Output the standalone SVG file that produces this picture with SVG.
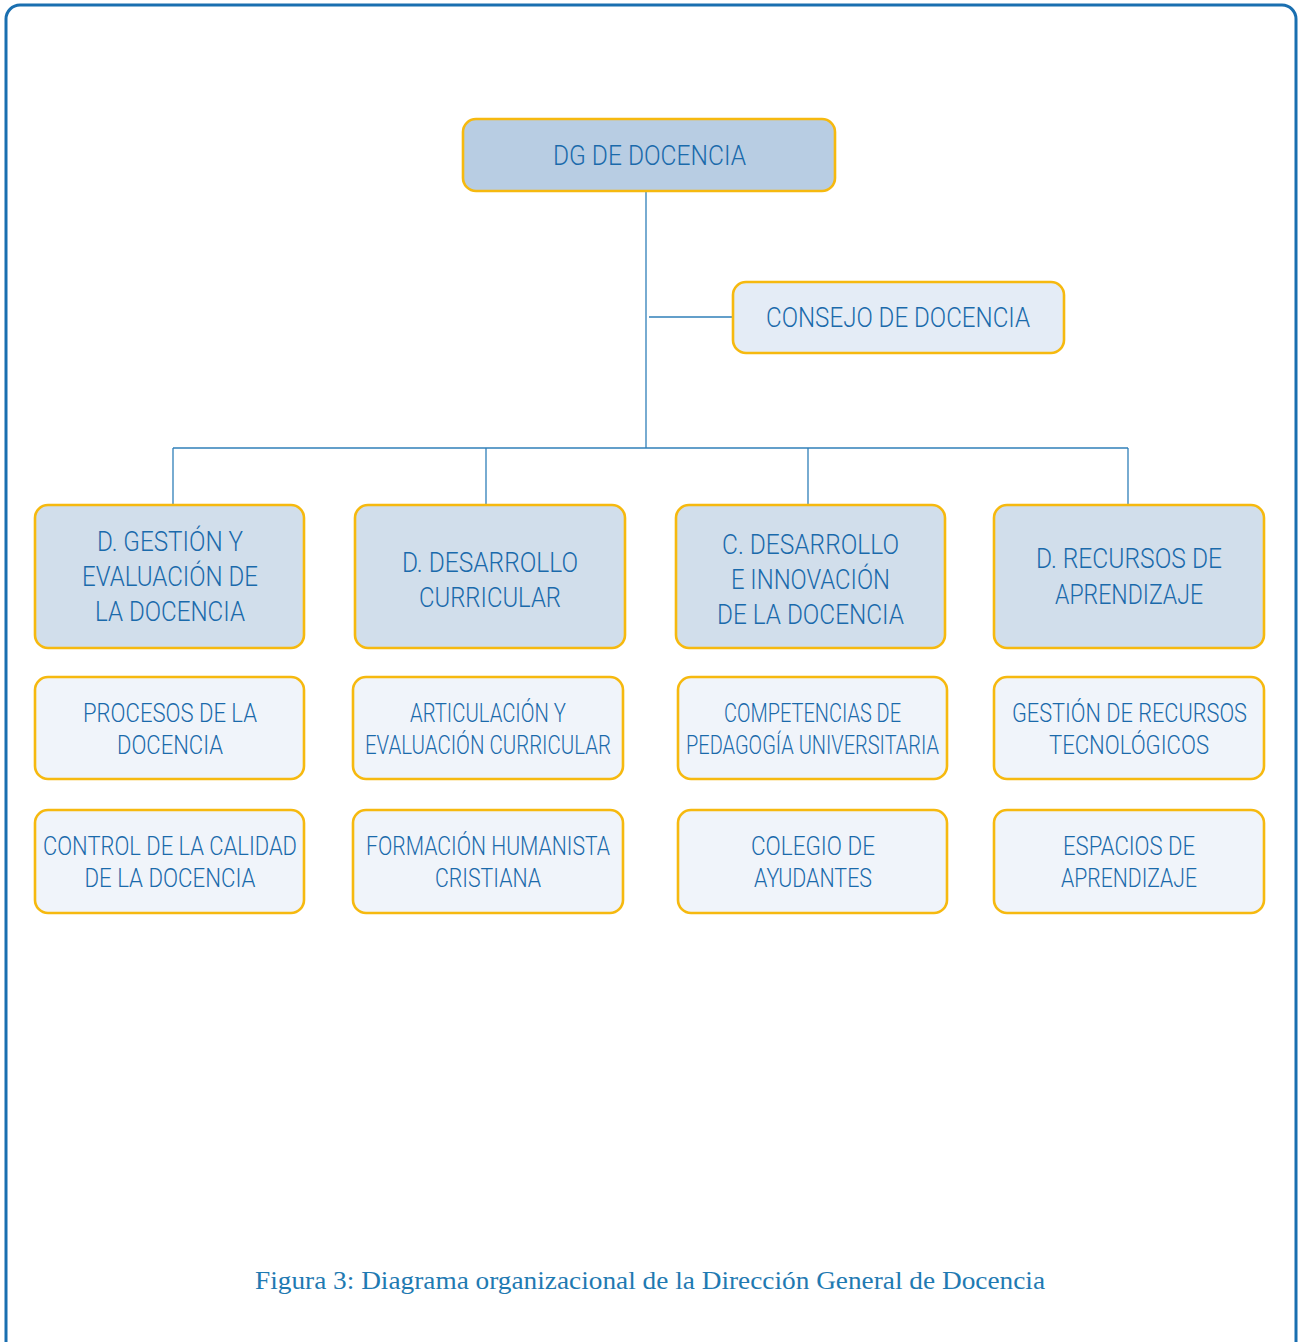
<svg xmlns="http://www.w3.org/2000/svg" width="1298" height="1342" viewBox="0 0 1298 1342">
<style>
.box{stroke:#f6b90f;stroke-width:2.6}
.top{fill:#b8cde3}
.l2{fill:#d1deeb}
.l3{fill:#f0f4fa}
.cons{fill:#e4ecf6}
.t{font-family:Roboto,"Liberation Sans",Arial,sans-serif;font-weight:300;fill:#1a6aab;text-anchor:middle}
.big{font-size:28px}
.mid{font-size:27px}
.sm{font-size:25px}
.conn{stroke:#2f7fb8;stroke-width:1.3;fill:none}
.cap{font-family:"Liberation Serif","Times New Roman",serif;font-size:26px;fill:#1f7ab2;text-anchor:middle}
</style>
<rect x="0" y="0" width="1298" height="1342" fill="#ffffff"/>
<rect x="6" y="5" width="1290" height="1370" rx="14" fill="none" stroke="#1a6fb0" stroke-width="3"/>
<g id="connectors" class="conn">
<path d="M646 191 V448"/>
<path d="M649 317 H733"/>
<path d="M173 448 H1128"/>
<path d="M173 448 V505"/>
<path d="M486 448 V505"/>
<path d="M808 448 V505"/>
<path d="M1128 448 V505"/>
</g>
<g id="dg">
<rect class="box top" x="463" y="119" width="372" height="72" rx="13"/>
<text class="t big" x="649.5" y="165" textLength="193" lengthAdjust="spacingAndGlyphs">DG DE DOCENCIA</text>
</g>
<g id="consejo">
<rect class="box cons" x="733" y="282" width="331" height="71" rx="13"/>
<text class="t big" x="898" y="327" textLength="264" lengthAdjust="spacingAndGlyphs">CONSEJO DE DOCENCIA</text>
</g>
<g id="d-gestion">
<rect class="box l2" x="35" y="505" width="269" height="143" rx="13"/>
<text class="t mid" x="170" y="551" textLength="146" lengthAdjust="spacingAndGlyphs">D. GESTIÓN Y</text>
<text class="t mid" x="170" y="586" textLength="176" lengthAdjust="spacingAndGlyphs">EVALUACIÓN DE</text>
<text class="t mid" x="170" y="621" textLength="150" lengthAdjust="spacingAndGlyphs">LA DOCENCIA</text>
</g>
<g id="d-desarrollo">
<rect class="box l2" x="355" y="505" width="270" height="143" rx="13"/>
<text class="t mid" x="490" y="572" textLength="176" lengthAdjust="spacingAndGlyphs">D. DESARROLLO</text>
<text class="t mid" x="490" y="607" textLength="142" lengthAdjust="spacingAndGlyphs">CURRICULAR</text>
</g>
<g id="c-desarrollo">
<rect class="box l2" x="676" y="505" width="269" height="143" rx="13"/>
<text class="t mid" x="810.5" y="554" textLength="177" lengthAdjust="spacingAndGlyphs">C. DESARROLLO</text>
<text class="t mid" x="810.5" y="589" textLength="159" lengthAdjust="spacingAndGlyphs">E INNOVACIÓN</text>
<text class="t mid" x="810.5" y="624" textLength="187" lengthAdjust="spacingAndGlyphs">DE LA DOCENCIA</text>
</g>
<g id="d-recursos">
<rect class="box l2" x="994" y="505" width="270" height="143" rx="13"/>
<text class="t mid" x="1129" y="568" textLength="186" lengthAdjust="spacingAndGlyphs">D. RECURSOS DE</text>
<text class="t mid" x="1129" y="604" textLength="148" lengthAdjust="spacingAndGlyphs">APRENDIZAJE</text>
</g>
<g id="procesos">
<rect class="box l3" x="35" y="677" width="269" height="102" rx="13"/>
<text class="t sm" x="170" y="722" textLength="174" lengthAdjust="spacingAndGlyphs">PROCESOS DE LA</text>
<text class="t sm" x="170" y="754" textLength="106" lengthAdjust="spacingAndGlyphs">DOCENCIA</text>
</g>
<g id="control">
<rect class="box l3" x="35" y="810" width="269" height="103" rx="13"/>
<text class="t sm" x="170" y="855" textLength="254" lengthAdjust="spacingAndGlyphs">CONTROL DE LA CALIDAD</text>
<text class="t sm" x="170" y="887" textLength="171" lengthAdjust="spacingAndGlyphs">DE LA DOCENCIA</text>
</g>
<g id="articulacion">
<rect class="box l3" x="353" y="677" width="270" height="102" rx="13"/>
<text class="t sm" x="488" y="722" textLength="156" lengthAdjust="spacingAndGlyphs">ARTICULACIÓN Y</text>
<text class="t sm" x="488" y="754" textLength="246" lengthAdjust="spacingAndGlyphs">EVALUACIÓN CURRICULAR</text>
</g>
<g id="formacion">
<rect class="box l3" x="353" y="810" width="270" height="103" rx="13"/>
<text class="t sm" x="488" y="855" textLength="244" lengthAdjust="spacingAndGlyphs">FORMACIÓN HUMANISTA</text>
<text class="t sm" x="488" y="887" textLength="106" lengthAdjust="spacingAndGlyphs">CRISTIANA</text>
</g>
<g id="competencias">
<rect class="box l3" x="678" y="677" width="269" height="102" rx="13"/>
<text class="t sm" x="812.5" y="722" textLength="177" lengthAdjust="spacingAndGlyphs">COMPETENCIAS DE</text>
<text class="t sm" x="812.5" y="754" textLength="253" lengthAdjust="spacingAndGlyphs">PEDAGOGÍA UNIVERSITARIA</text>
</g>
<g id="colegio">
<rect class="box l3" x="678" y="810" width="269" height="103" rx="13"/>
<text class="t sm" x="813" y="855" textLength="124" lengthAdjust="spacingAndGlyphs">COLEGIO DE</text>
<text class="t sm" x="813" y="887" textLength="118" lengthAdjust="spacingAndGlyphs">AYUDANTES</text>
</g>
<g id="gestion-recursos">
<rect class="box l3" x="994" y="677" width="270" height="102" rx="13"/>
<text class="t sm" x="1129.5" y="722" textLength="235" lengthAdjust="spacingAndGlyphs">GESTIÓN DE RECURSOS</text>
<text class="t sm" x="1129" y="754" textLength="160" lengthAdjust="spacingAndGlyphs">TECNOLÓGICOS</text>
</g>
<g id="espacios">
<rect class="box l3" x="994" y="810" width="270" height="103" rx="13"/>
<text class="t sm" x="1129" y="855" textLength="132" lengthAdjust="spacingAndGlyphs">ESPACIOS DE</text>
<text class="t sm" x="1129" y="887" textLength="136" lengthAdjust="spacingAndGlyphs">APRENDIZAJE</text>
</g>
<text class="cap" x="650" y="1289" textLength="790" lengthAdjust="spacingAndGlyphs">Figura 3: Diagrama organizacional de la Dirección General de Docencia</text>
</svg>
